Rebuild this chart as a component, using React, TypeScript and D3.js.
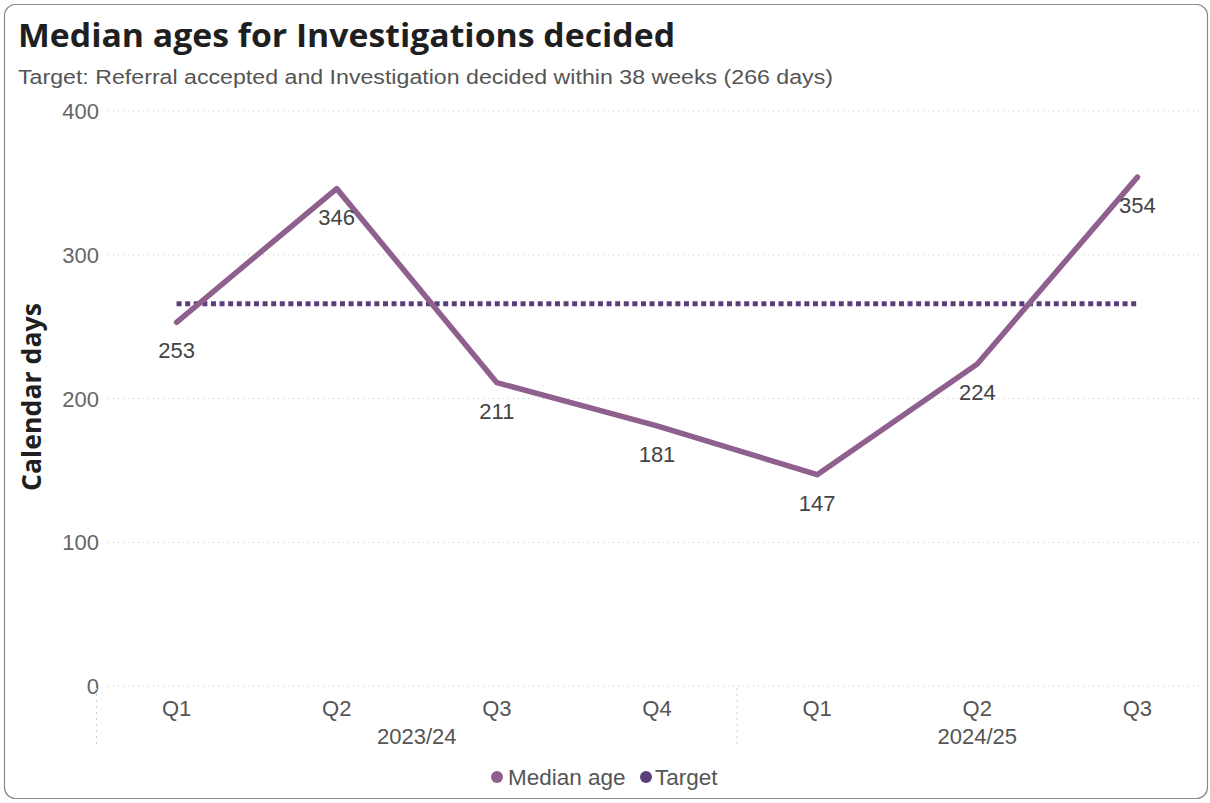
import React from "react";
import * as d3 from "d3";

const quarters = ["Q1", "Q2", "Q3", "Q4", "Q1", "Q2", "Q3"];
const years = ["2023/24", "2023/24", "2023/24", "2023/24", "2024/25", "2024/25", "2024/25"];
const medianAge = [253, 346, 211, 181, 147, 224, 354];
const targetDays = 266;
const yTicks = [0, 100, 200, 300, 400];

const W = 1210;
const H = 803;
const LINE_COLOR = "#8f5f8e";
const TARGET_COLOR = "#5b3f7d";

export default function App() {
  const idx = quarters.map((_, i) => String(i));
  const x = d3.scaleBand<string>().domain(idx).range([96.5, 1217.5]);
  const y = d3.scaleLinear().domain([0, 400]).range([686, 111]);
  const cx = (i: number) => (x(String(i)) as number) + x.bandwidth() / 2;

  const line = d3
    .line<number>()
    .x((_, i) => cx(i))
    .y((d) => y(d));

  const yearGroups = Array.from(new Set(years)).map((yr) => {
    const ids = years.map((v, i) => (v === yr ? i : -1)).filter((i) => i >= 0);
    const left = x(String(ids[0])) as number;
    const right = (x(String(ids[ids.length - 1])) as number) + x.bandwidth();
    return { yr, left, right, mid: (left + right) / 2 };
  });

  const font = "'Liberation Sans', Arial, sans-serif";

  return (
    <svg
      width={W}
      height={H}
      style={{ position: "absolute", left: 0, top: 0, background: "#fff" }}
    >
      <rect x={4.5} y={4.5} width={1203} height={794} rx={11} fill="#fff" stroke="#8a8a8a" strokeWidth={1.2} />
      <text
        x={18}
        y={47}
        fontFamily="'Open Sans', 'Noto Sans', sans-serif"
        fontWeight={700}
        fontSize={32}
        fill="#1f1f1f"
        textLength={657}
        lengthAdjust="spacingAndGlyphs"
      >
        Median ages for Investigations decided
      </text>
      <text x={18} y={84} fontFamily={font} fontSize={19.5} fill="#555" textLength={815} lengthAdjust="spacingAndGlyphs">
        Target: Referral accepted and Investigation decided within 38 weeks (266 days)
      </text>

      {/* gridlines */}
      {yTicks.map((t) => (
        <g key={t}>
          <line x1={108} x2={1200} y1={y(t)} y2={y(t)} stroke="#c8c8c8" strokeWidth={1} strokeDasharray="1,4" />
          <text x={99} y={y(t) + 8} textAnchor="end" fontFamily={font} fontSize={22} fill="#666">
            {t}
          </text>
        </g>
      ))}

      {/* y axis title */}
      <text
        transform={`translate(41,${397}) rotate(-90)`}
        textAnchor="middle"
        fontFamily="'Open Sans', 'Noto Sans', sans-serif"
        fontWeight={700}
        fontSize={27}
        fill="#1f1f1f"
        textLength={188}
        lengthAdjust="spacingAndGlyphs"
      >
        Calendar days
      </text>

      {/* year separators */}
      {[yearGroups[0].left, yearGroups[1].left].map((sx, i) => (
        <line key={i} x1={sx} x2={sx} y1={688} y2={746} stroke="#cfcfcf" strokeWidth={1} strokeDasharray="2,4" />
      ))}

      {/* x labels */}
      {quarters.map((q, i) => (
        <text key={i} x={cx(i)} y={716} textAnchor="middle" fontFamily={font} fontSize={22} fill="#555">
          {q}
        </text>
      ))}
      {yearGroups.map((g) => (
        <text key={g.yr} x={g.mid} y={744} textAnchor="middle" fontFamily={font} fontSize={22} fill="#555">
          {g.yr}
        </text>
      ))}

      {/* target line */}
      <line
        x1={cx(0)}
        x2={cx(medianAge.length - 1)}
        y1={y(targetDays)}
        y2={y(targetDays)}
        stroke={TARGET_COLOR}
        strokeWidth={5}
        strokeDasharray="5,3.6"
      />

      {/* median line */}
      <path d={line(medianAge) || ""} fill="none" stroke={LINE_COLOR} strokeWidth={5.5} strokeLinecap="round" strokeLinejoin="round" />

      {/* data labels */}
      {medianAge.map((v, i) => (
        <text key={i} x={cx(i)} y={y(v) + 36} textAnchor="middle" fontFamily={font} fontSize={22} fill="#444">
          {v}
        </text>
      ))}

      {/* legend */}
      <circle cx={497} cy={777} r={6} fill={LINE_COLOR} />
      <text x={508} y={785} fontFamily={font} fontSize={22.5} fill="#555">
        Median age
      </text>
      <circle cx={646} cy={777} r={6} fill={TARGET_COLOR} />
      <text x={655} y={785} fontFamily={font} fontSize={22.5} fill="#555">
        Target
      </text>
    </svg>
  );
}
